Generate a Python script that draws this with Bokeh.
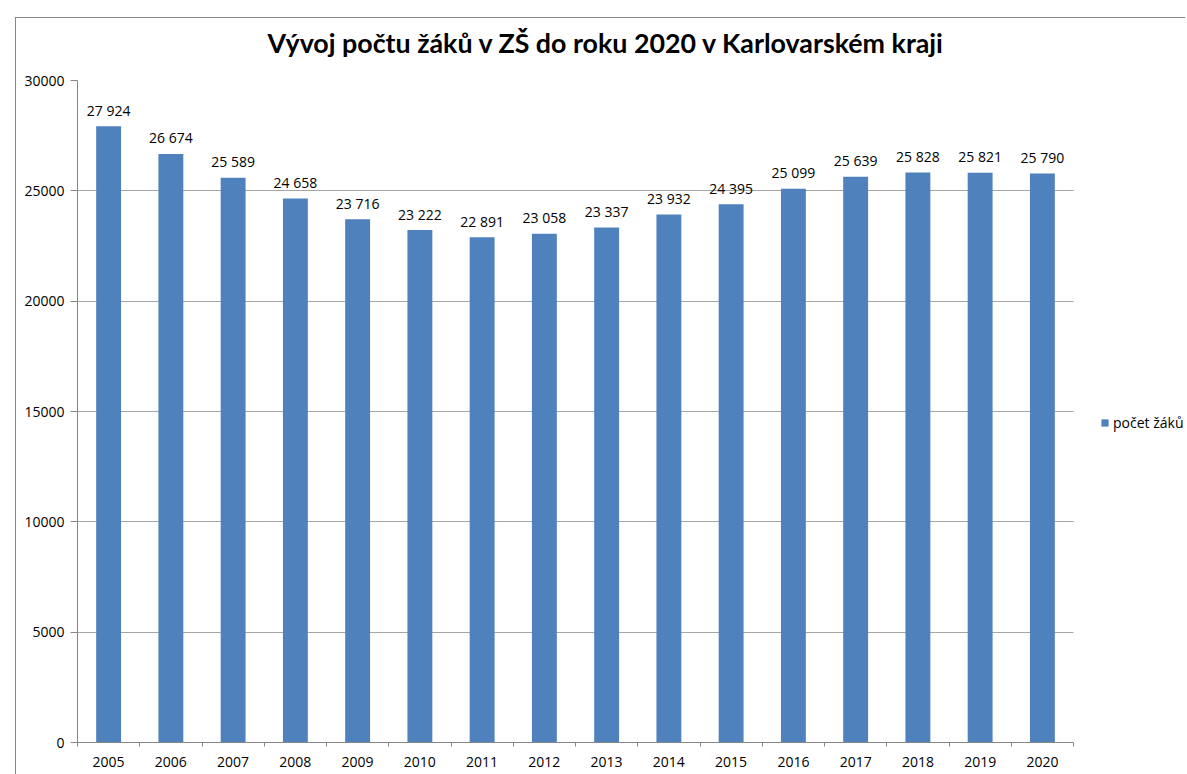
from bokeh.plotting import figure
from bokeh.models import Range1d, FixedTicker, ColumnDataSource, LabelSet, Legend, LegendItem, Div
from bokeh.layouts import column
from bokeh.core.properties import value
from bokeh.embed import file_html
from bokeh.resources import INLINE

# ---- data ----
years = [2005, 2006, 2007, 2008, 2009, 2010, 2011, 2012,
         2013, 2014, 2015, 2016, 2017, 2018, 2019, 2020]
pupils = [27924, 26674, 25589, 24658, 23716, 23222, 22891, 23058,
          23337, 23932, 24395, 25099, 25639, 25828, 25821, 25790]
series_name = "počet žáků"
title_text = "Vývoj počtu žáků v ZŠ do roku 2020 v Karlovarském kraji"
y_ticks = [0, 5000, 10000, 15000, 20000, 25000, 30000]

TITLE_FONT = "Lato"
FONT = "Open Sans"
BAR = "#4F81BD"
GRID = "#A6A6A6"
AXIS = "#868686"
TEXT = "#000000"

n = len(years)
xs = list(range(n))
labels = [f"{v:,}".replace(",", " ") for v in pupils]
src = ColumnDataSource(dict(x=xs, y=pupils, label=labels))

# frame extends to the right edge to host the legend (empty space after last category)
LEGEND_SPACE = 1.815
p = figure(width=1175, height=771, output_backend="svg", toolbar_location=None,
           x_range=Range1d(-0.5, n - 0.5 + LEGEND_SPACE),
           y_range=Range1d(y_ticks[0], y_ticks[-1]),
           min_border_left=66, min_border_right=0,
           min_border_top=0, min_border_bottom=31)
p.margin = (2, 0, 0, 11)
p.outline_line_color = None
p.background_fill_color = "white"
p.border_fill_color = "white"

bars = p.vbar(x="x", top="y", width=0.4, source=src, fill_color=BAR, line_color=None)

# title
p.title.text = title_text
p.title.text_font = TITLE_FONT
p.title.text_font_style = "bold"
p.title.text_font_size = "26.8px"
p.title.text_color = TEXT
p.title.align = "left"
p.title.offset = 190
p.title.standoff = 44

# x axis
p.xaxis.ticker = FixedTicker(ticks=xs, minor_ticks=[i - 0.5 for i in range(n + 1)])
p.xaxis.bounds = (-0.5, n - 0.5)
p.xaxis.major_label_overrides = {i: str(y) for i, y in enumerate(years)}
p.xaxis.axis_line_color = AXIS
p.xaxis.major_tick_line_color = None
p.xaxis.major_tick_out = 0
p.xaxis.major_tick_in = 0
p.xaxis.minor_tick_line_color = AXIS
p.xaxis.minor_tick_out = 4
p.xaxis.minor_tick_in = 0
p.xaxis.major_label_standoff = 10
p.xaxis.major_label_text_font = FONT
p.xaxis.major_label_text_font_size = "14px"
p.xaxis.major_label_text_color = TEXT

# y axis
p.yaxis.ticker = FixedTicker(ticks=y_ticks, minor_ticks=[])
p.yaxis.axis_line_color = AXIS
p.yaxis.major_tick_line_color = AXIS
p.yaxis.major_tick_out = 7
p.yaxis.major_tick_in = 0
p.yaxis.minor_tick_line_color = None
p.yaxis.major_label_standoff = 6
p.yaxis.major_label_text_font = FONT
p.yaxis.major_label_text_font_size = "14px"
p.yaxis.major_label_text_color = TEXT

p.xgrid.grid_line_color = None
if hasattr(p.ygrid[0], "cross_bounds"):
    p.ygrid.cross_bounds = (-0.5, n - 0.5)
    p.ygrid.grid_line_color = GRID
else:
    p.ygrid.grid_line_color = None
    p.segment(x0=[-0.5] * len(y_ticks), x1=[n - 0.5] * len(y_ticks),
              y0=y_ticks, y1=y_ticks, line_color=GRID, line_width=1, level="underlay")

# data labels
p.add_layout(LabelSet(x="x", y="y", text="label", source=src,
                      text_align="center", text_baseline="middle", y_offset=16,
                      text_font=value(FONT), text_font_size="14px", text_color=TEXT))

# legend (in the empty area right of the bars)
lg = Legend(items=[LegendItem(label=series_name, renderers=[bars])],
            location=(1023, 310), border_line_color=None, background_fill_alpha=0,
            padding=0, margin=0, glyph_width=9, glyph_height=9, label_standoff=4,
            label_text_font=FONT, label_text_font_size="14px", label_text_color=TEXT)
p.add_layout(lg, "center")

# outer chart-area border (top/left edges, as in the reference screenshot)
chart_border = Div(text="", width=1170, height=760,
                   styles={"position": "absolute", "left": "10px", "top": "12px",
                           "border-left": "1px solid #868686",
                           "border-top": "1px solid #868686",
                           "pointer-events": "none", "z-index": "10",
                           "background": "transparent"})

root = column(p, chart_border, spacing=0)
open("out.html", "w").write(file_html(root, INLINE))
